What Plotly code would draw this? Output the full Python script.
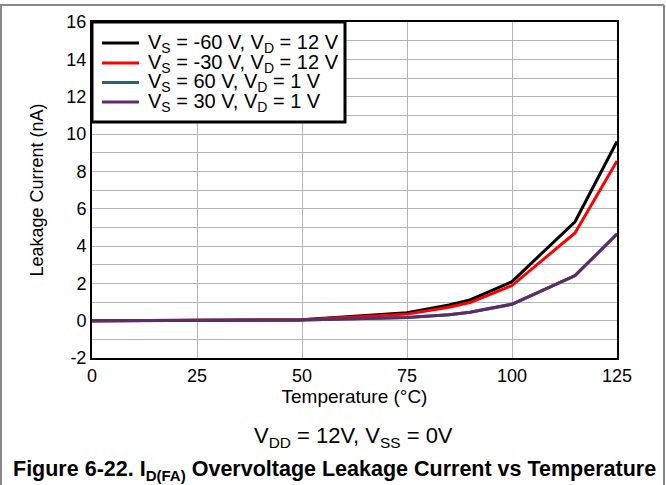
import plotly.graph_objects as go

temps = [0, 25, 50, 75, 85, 90, 100, 115, 125]
s_neg60 = [0.0, 0.01, 0.05, 0.43, 0.84, 1.11, 2.09, 5.3, 9.6]
s_neg30 = [0.0, 0.01, 0.05, 0.35, 0.72, 0.97, 1.88, 4.7, 8.55]
s_pos60 = [0.0, 0.01, 0.03, 0.17, 0.32, 0.45, 0.88, 2.42, 4.65]
s_pos30 = [0.0, 0.01, 0.03, 0.17, 0.32, 0.45, 0.88, 2.41, 4.63]

names = ["V<sub>S</sub> = -60 V, V<sub>D</sub> = 12 V",
         "V<sub>S</sub> = -30 V, V<sub>D</sub> = 12 V",
         "V<sub>S</sub> = 60 V, V<sub>D</sub> = 1 V",
         "V<sub>S</sub> = 30 V, V<sub>D</sub> = 1 V"]
colors = ["#000000", "#ff0000", "#2f6079", "#5e2d66"]
series = [s_neg60, s_neg30, s_pos60, s_pos30]

x_ticks = [0, 25, 50, 75, 100, 125]
y_grid = list(range(-2, 17))
y_labels = [str(v) if v % 2 == 0 else "" for v in y_grid]

FONT = "Liberation Sans, Arial, sans-serif"
PL, PT, PW, PH = 92, 22, 525, 336   # plot area in pixels


def px(x):
    return (x - PL) / PW


def py(y):
    return (PT + PH - y) / PH


fig = go.Figure()
for n, c, s in zip(names, colors, series):
    fig.add_trace(go.Scatter(x=temps, y=s, mode="lines", name=n,
                             line=dict(color=c, width=3), showlegend=False))

fig.update_layout(
    width=666, height=485,
    margin=dict(l=PL, r=666 - PL - PW, t=PT, b=485 - PT - PH),
    paper_bgcolor="white", plot_bgcolor="white",
    font=dict(family=FONT, size=18, color="black"),
    showlegend=False,
    xaxis=dict(range=[0, 125], tickvals=x_ticks, showgrid=True,
               gridcolor="#b4b4b4", gridwidth=1, zeroline=False,
               showline=True, linecolor="black", linewidth=2, mirror=True,
               ticks="", tickfont=dict(size=18),
               title=dict(text="Temperature (°C)", font=dict(size=19), standoff=2)),
    yaxis=dict(range=[-2, 16], tickvals=y_grid, ticktext=y_labels, showgrid=True,
               gridcolor="#b4b4b4", gridwidth=1, zeroline=False,
               showline=True, linecolor="black", linewidth=2, mirror=True,
               ticks="", tickfont=dict(size=18),
               title=dict(text="Leakage Current (nA)", font=dict(size=18), standoff=18)),
)

# legend box (drawn manually to match the compact row spacing)
fig.add_shape(type="rect", xref="paper", yref="paper",
              x0=px(92), x1=px(345), y0=py(122), y1=py(22),
              line=dict(color="black", width=3), fillcolor="white", layer="above")
rows = [43, 63, 82.5, 102]
for n, c, r in zip(names, colors, rows):
    fig.add_shape(type="line", xref="paper", yref="paper",
                  x0=px(102), x1=px(139), y0=py(r), y1=py(r),
                  line=dict(color=c, width=3), layer="above")
    fig.add_annotation(text=n, xref="paper", yref="paper", x=px(147), y=py(r),
                       xanchor="left", yanchor="middle", showarrow=False,
                       borderpad=0, font=dict(size=20))

fig.add_annotation(text="V<sub>DD</sub> = 12V, V<sub>SS</sub> = 0V",
                   xref="paper", yref="paper", x=px(353), y=py(437),
                   xanchor="center", yanchor="middle", showarrow=False,
                   font=dict(size=22))
fig.add_annotation(text="<b>Figure 6-22. I<sub>D(FA)</sub> Overvoltage Leakage Current vs Temperature</b>",
                   xref="paper", yref="paper", x=px(334), y=py(470),
                   xanchor="center", yanchor="middle", showarrow=False,
                   font=dict(size=21.5))

# outer frame
fig.add_shape(type="line", xref="paper", yref="paper",
              x0=px(0), x1=px(664), y0=py(5), y1=py(5),
              line=dict(color="#888888", width=2))
fig.add_shape(type="line", xref="paper", yref="paper",
              x0=px(1), x1=px(1), y0=py(5), y1=py(485),
              line=dict(color="#888888", width=2))
fig.add_shape(type="line", xref="paper", yref="paper",
              x0=px(664), x1=px(664), y0=py(5), y1=py(485),
              line=dict(color="#888888", width=2))

fig.write_html("out.html")
